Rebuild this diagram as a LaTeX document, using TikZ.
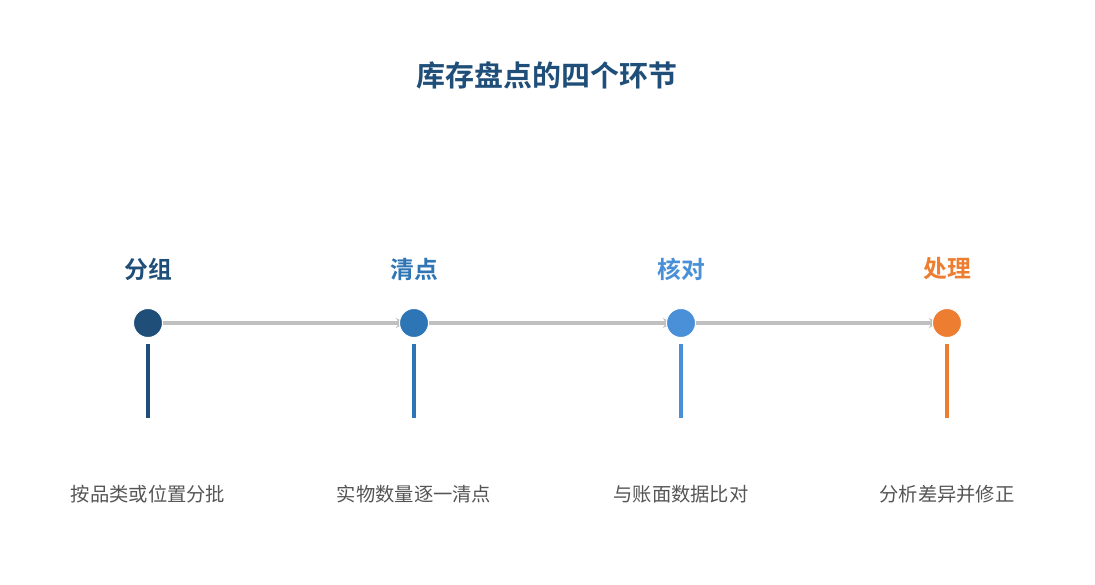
\documentclass[tikz,border=0pt]{standalone}
\usepackage{fontspec}
\newfontfamily\cjk{Noto Sans CJK SC}
\newfontfamily\cjkb{Noto Sans CJK SC Bold}
\usetikzlibrary{arrows.meta}
\definecolor{cA}{HTML}{1F4E79}
\definecolor{cB}{HTML}{2E75B6}
\definecolor{cC}{HTML}{4A90D9}
\definecolor{cD}{HTML}{ED7D31}
\definecolor{cgray}{HTML}{C0C0C0}
\definecolor{ctext}{HTML}{555555}
\begin{document}
\begin{tikzpicture}[x=1pt,y=-1pt,
  dot/.style={circle,fill=#1,draw=white,line width=1pt,minimum size=29pt,inner sep=0pt},
  bar/.style={draw=#1,line width=4pt},
  steplabel/.style={font=\cjkb\fontsize{23.8}{28}\selectfont,text=#1,inner sep=0pt},
  desc/.style={font=\cjk\fontsize{19.3}{23}\selectfont,text=ctext,inner sep=0pt},
  link/.style={draw=cgray,line width=3.5pt,-{Stealth[length=9pt,width=10pt]}}]
\useasboundingbox (0,0) rectangle (1095,585);
\node[font=\cjkb\fontsize{29}{33}\selectfont,text=cA,inner sep=0pt] (title) at (547,75) {库存盘点的四个环节};
\foreach \n/\x/\c/\t/\d in {a/148/cA/分组/按品类或位置分批, b/414/cB/清点/实物数量逐一清点, c/681/cC/核对/与账面数据比对, d/947/cD/处理/分析差异并修正}{
  \node[steplabel=\c] (l\n) at (\x,269) {\t};
  \coordinate (c\n) at (\x,323);
  \coordinate (t\n) at (\x,344);
  \coordinate (e\n) at (\x,418);
  \node[desc] (d\n) at (\x,494) {\d};
}
\draw[link,shorten >=9pt] (ca) -- (cb);
\draw[link,shorten >=9pt] (cb) -- (cc);
\draw[link,shorten >=9pt] (cc) -- (cd);
\foreach \n/\c in {a/cA,b/cB,c/cC,d/cD}{
  \node[dot=\c] (n\n) at (c\n) {};
  \draw[bar=\c] (t\n) -- (e\n);
}
\end{tikzpicture}
\end{document}
